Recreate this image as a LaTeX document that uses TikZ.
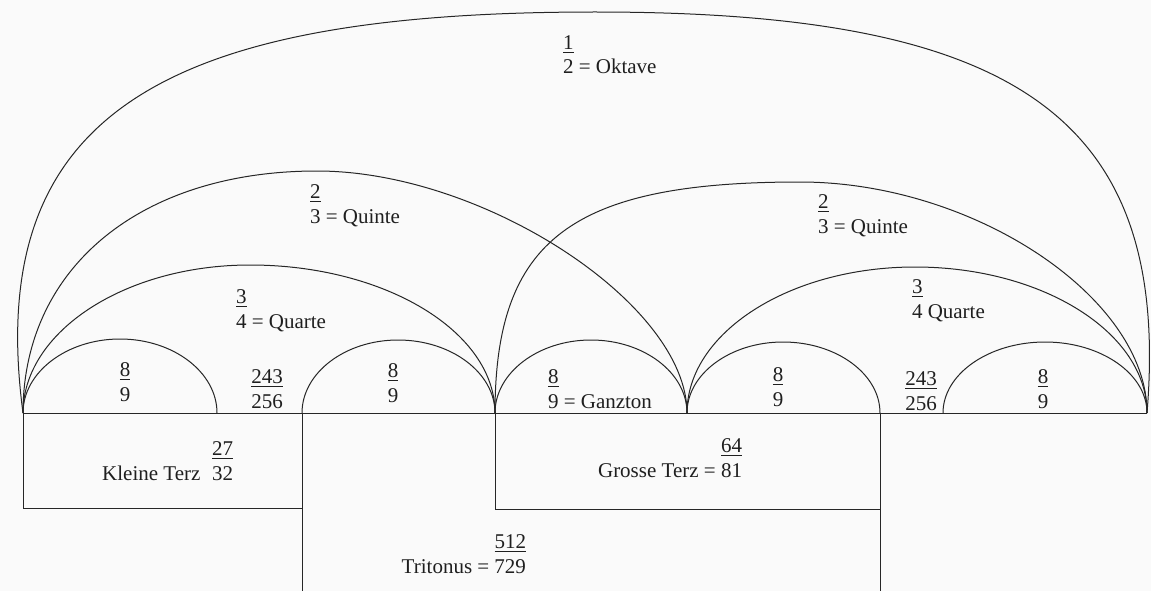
\documentclass[tikz,border=0pt]{standalone}
\usepackage{fontspec}
\setmainfont{Liberation Serif}
\newcommand{\ulbar}[1]{\setbox0\hbox{#1}\rlap{\rule[-3.6pt]{\wd0}{1.2pt}}\box0}
\newcommand{\fracL}[2]{\begin{tabular}[b]{@{}l@{}}\ulbar{#1}\\#2\end{tabular}}
\newcommand{\fracR}[2]{\begin{tabular}[b]{@{}r@{}}\ulbar{#1}\\#2\end{tabular}}
\newcommand{\fracC}[2]{\begin{tabular}[b]{@{}c@{}}\ulbar{#1}\\#2\end{tabular}}
% L, peak x, top y, R, k left, k right, bulge left, bulge right
\newcommand{\archshape}[8]{%
  \draw[arcline] (#1,413) .. controls ({#1-#7},{413-#5*(413-#3)}) and ({#2-#5*(#2-#1)},#3) .. (#2,#3)
    .. controls ({#2+#6*(#4-#2)},#3) and ({#4+#8},{413-#6*(413-#3)}) .. (#4,413);}
\begin{document}
\begin{tikzpicture}[x=1pt, y=-1pt,
  arcline/.style={line width=1.0pt, draw=black!85},
  boxline/.style={line width=1.0pt, draw=black!85},
  lbl/.style={inner sep=0pt, outer sep=0pt, font=\fontsize{21}{24.5}\selectfont, text=black!88}]
\fill[black!2] (0,0) rectangle (1151,591);
\useasboundingbox (0,0) rectangle (1151,591);
% arches
\archshape{23}{595}{12}{1147}{0.75}{0.75}{40}{25}
\archshape{23}{317}{171}{687}{0.6}{0.45}{0}{0}
\archshape{495}{800}{182}{1147}{0.75}{0.5}{0}{0}
\archshape{23}{250}{265}{495}{0.55}{0.55}{0}{0}
\archshape{687}{915}{267}{1147}{0.55}{0.55}{0}{0}
\archshape{23}{120}{339}{217}{0.55}{0.55}{0}{0}
\archshape{302}{398}{340}{495}{0.55}{0.55}{0}{0}
\archshape{495}{591}{340}{687}{0.55}{0.55}{0}{0}
\archshape{687}{783}{342}{880}{0.55}{0.55}{0}{0}
\archshape{943}{1045}{342}{1147}{0.55}{0.55}{0}{0}
% baseline and thirds
\coordinate (b0) at (23,413);
\coordinate (b1) at (1147,413);
\draw[boxline] (b0) -- (b1);
\draw[boxline] (23,413) -- (23,508) -- (302,508);
\draw[boxline] (302,413) -- (302,591);
\draw[boxline] (495,413) -- (495,509) -- (880,509);
\draw[boxline] (880,413) -- (880,591);
% labels
\node[lbl, anchor=base west] (okt) at (563,74) {\fracL{1}{2 = Oktave}};
\node[lbl, anchor=base west] (qu1) at (310,223) {\fracL{2}{3 = Quinte}};
\node[lbl, anchor=base west] (qu2) at (818,233) {\fracL{2}{3 = Quinte}};
\node[lbl, anchor=base west] (qa1) at (236,328) {\fracL{3}{4 = Quarte}};
\node[lbl, anchor=base west] (qa2) at (912,318) {\fracL{3}{4 Quarte}};
\node[lbl, anchor=base] (g1) at (125,401) {\fracC{8}{9}};
\node[lbl, anchor=base] (s1) at (267,408) {\fracC{243}{256}};
\node[lbl, anchor=base] (g2) at (393,402) {\fracC{8}{9}};
\node[lbl, anchor=base west] (g3) at (548,408) {\fracL{8}{9 = Ganzton}};
\node[lbl, anchor=base] (g4) at (778,406) {\fracC{8}{9}};
\node[lbl, anchor=base] (s2) at (921,410) {\fracC{243}{256}};
\node[lbl, anchor=base] (g5) at (1043,408) {\fracC{8}{9}};
\node[lbl, anchor=base east] (kt) at (233,480) {\fracR{27}{Kleine Terz\hspace{0.55em}32}};
\node[lbl, anchor=base east] (gt) at (742,477) {\fracR{64}{Grosse Terz = 81}};
\node[lbl, anchor=base east] (tt) at (526,573) {\fracR{512}{Tritonus = 729}};
\end{tikzpicture}
\end{document}
